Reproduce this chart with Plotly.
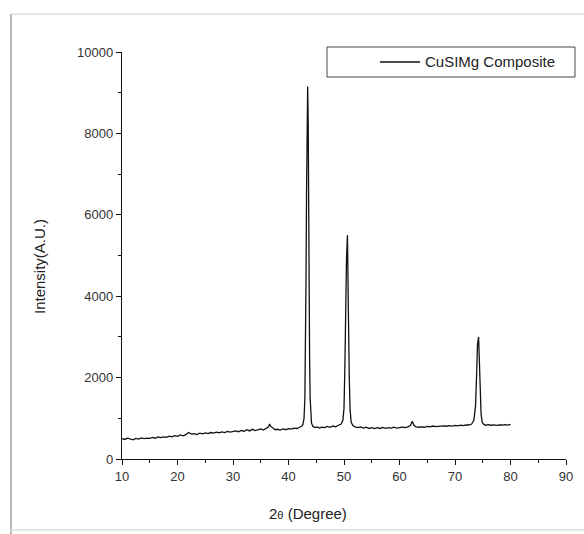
import plotly.graph_objects as go

two_theta = [
    10, 10.5, 11, 11.5, 12, 12.5, 13, 13.5, 14, 14.5, 15, 15.5, 16, 16.5, 17, 17.5,
    18, 18.5, 19, 19.5, 20, 20.5, 21, 21.5, 22, 22.5, 23, 23.5, 24, 24.5, 25, 25.5,
    26, 26.5, 27, 27.5, 28, 28.5, 29, 29.5, 30, 30.5, 31, 31.5, 32, 32.5, 33, 33.5,
    34, 34.5, 35, 35.5, 36, 36.4, 36.6, 36.8, 37.2, 37.6, 38, 38.5, 39, 39.5, 40,
    40.5, 41, 41.5, 42, 42.4, 42.6, 42.8, 42.95, 43.05, 43.15, 43.25, 43.35, 43.45,
    43.55, 43.62, 43.7, 43.8, 43.9, 44.0, 44.15, 44.4, 44.8, 45.2, 45.6, 46, 46.5,
    47, 47.5, 48, 48.5, 49, 49.5, 49.8, 50.0, 50.15, 50.3, 50.45, 50.62, 50.72,
    50.82, 50.95, 51.1, 51.3, 51.6, 52, 52.5, 53, 53.5, 54, 54.5, 55, 55.5, 56,
    56.5, 57, 57.5, 58, 58.5, 59, 59.5, 60, 60.5, 61, 61.5, 62, 62.3, 62.6, 63,
    63.5, 64, 64.5, 65, 65.5, 66, 66.5, 67, 67.5, 68, 68.5, 69, 69.5, 70, 70.5,
    71, 71.5, 72, 72.5, 73, 73.4, 73.7, 73.9, 74.05, 74.25, 74.4, 74.55, 74.7,
    74.9, 75.2, 75.5, 76, 76.5, 77, 77.5, 78, 78.5, 79, 79.5, 80,
]
intensity = [
    500, 480, 510, 495, 470, 505, 490, 520, 500, 515, 505, 530, 510, 540, 525, 545,
    530, 560, 545, 575, 555, 590, 570, 600, 650, 610, 625, 600, 635, 620, 640, 625,
    650, 635, 660, 645, 665, 650, 680, 660, 675, 690, 670, 700, 680, 720, 690, 730,
    700, 720, 740, 710, 745, 790, 860, 800, 760, 720, 730, 710, 740, 720, 745,
    735, 760, 750, 780, 810, 850, 1000, 1500, 2600, 4300, 6500, 8500, 9150,
    8300, 6000, 4000, 2500, 1500, 1050, 880, 800, 770, 790, 760, 780, 770,
    800, 780, 810, 790, 830, 860, 950, 1250, 2200, 3700, 4900, 5500, 4800,
    3300, 2000, 1200, 900, 820, 790, 770, 790, 760, 780, 750, 770, 745, 770,
    750, 775, 755, 770, 760, 780, 760, 770, 785, 770, 790, 830, 930, 830, 790,
    780, 790, 780, 800, 790, 810, 795, 805, 800, 815, 805, 820, 810, 825, 815,
    830, 820, 840, 835, 860, 950, 1300, 2100, 2800, 3000, 2500, 1700, 1100,
    900, 850, 830, 845, 830, 840, 825, 840, 835, 845, 835, 850,
]

series_name = "CuSIMg Composite"
x_ticks = [10, 20, 30, 40, 50, 60, 70, 80, 90]
y_ticks = [0, 2000, 4000, 6000, 8000, 10000]

fig = go.Figure()
fig.add_trace(go.Scatter(
    x=two_theta, y=intensity, mode="lines", name=series_name,
    line=dict(color="#111111", width=1.3), showlegend=False,
))

axis_common = dict(
    showgrid=False, zeroline=False, showline=True, linecolor="#111111",
    linewidth=1.3, ticks="outside", ticklen=5, tickwidth=1.3, tickcolor="#111111",
    tickfont=dict(family="Liberation Sans, Arial, sans-serif", size=13, color="#333333"),
    mirror=False,
)
fig.update_xaxes(
    range=[10, 90], tickvals=x_ticks, ticktext=[str(t) for t in x_ticks],
    minor=dict(dtick=5, ticks="outside", ticklen=3, tickwidth=1.3, tickcolor="#111111"),
    **axis_common,
)
fig.update_yaxes(
    range=[0, 10000], tickvals=y_ticks, ticktext=[str(t) for t in y_ticks],
    minor=dict(dtick=1000, ticks="outside", ticklen=3, tickwidth=1.3, tickcolor="#111111"),
    **axis_common,
)

L, R, T, B = 122, 566, 52, 459
W, H = 584, 534
def px(xp):
    return (xp - L) / (R - L)
def py(yp):
    return (B - yp) / (B - T)

shapes = [
    # screenshot frame
    dict(type="line", xref="paper", yref="paper", x0=px(11), x1=px(11), y0=py(14), y1=py(534),
         line=dict(color="#b5b5b5", width=2)),
    dict(type="line", xref="paper", yref="paper", x0=px(11), x1=px(584), y0=py(14), y1=py(14),
         line=dict(color="#e6e6e6", width=2)),
    dict(type="line", xref="paper", yref="paper", x0=px(11), x1=px(584), y0=py(530), y1=py(530),
         line=dict(color="#e6e6e6", width=2)),
    # legend box
    dict(type="rect", xref="paper", yref="paper", x0=px(327), x1=px(575), y0=py(77), y1=py(47),
         line=dict(color="#444444", width=1), fillcolor="rgba(0,0,0,0)"),
    dict(type="line", xref="paper", yref="paper", x0=px(380), x1=px(420), y0=py(62), y1=py(62),
         line=dict(color="#111111", width=1.3)),
]

annotations = [
    dict(text=series_name, xref="paper", yref="paper", x=px(423), y=py(62),
         xanchor="left", yanchor="middle", showarrow=False,
         font=dict(family="Liberation Sans, Arial, sans-serif", size=15, color="#222222")),
    dict(text="2<span style='font-size:11px'>θ</span> (Degree)", xref="paper", yref="paper",
         x=px(308), y=py(513), xanchor="center", yanchor="middle", showarrow=False,
         font=dict(family="Liberation Sans, Arial, sans-serif", size=15, color="#222222")),
    dict(text="Intensity(A.U.)", xref="paper", yref="paper", x=px(39), y=py(267),
         xanchor="center", yanchor="middle", showarrow=False, textangle=-90,
         font=dict(family="Liberation Sans, Arial, sans-serif", size=15, color="#222222")),
]

fig.update_layout(
    width=W, height=H,
    margin=dict(l=L, r=W - R, t=T, b=H - B, pad=0),
    paper_bgcolor="white", plot_bgcolor="white",
    shapes=shapes, annotations=annotations,
)

fig.write_html(
    "out.html",
    config={"displayModeBar": False},
    post_script="document.body.style.margin='0';document.body.style.overflow='hidden';",
)
